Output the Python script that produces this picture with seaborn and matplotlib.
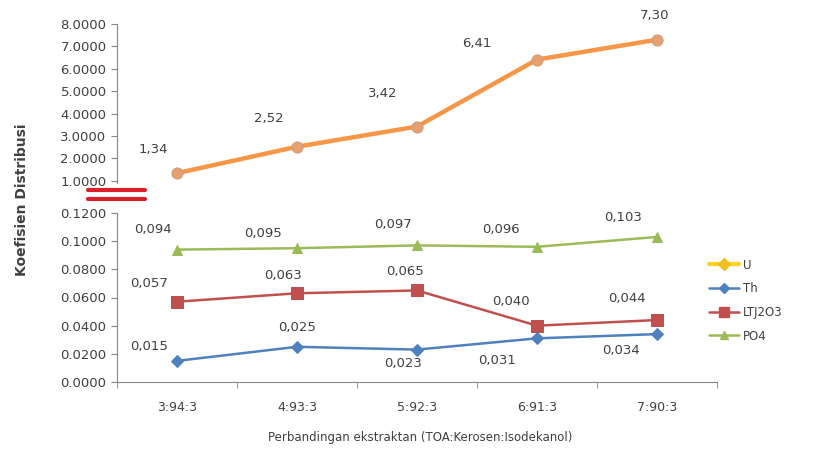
import numpy as np
import pandas as pd
import matplotlib
matplotlib.use("Agg")
import matplotlib.pyplot as plt
from matplotlib.lines import Line2D
import seaborn as sns

categories = ["3:94:3", "4:93:3", "5:92:3", "6:91:3", "7:90:3"]
u_vals = [1.34, 2.52, 3.42, 6.41, 7.30]
th_vals = [0.015, 0.025, 0.023, 0.031, 0.034]
ltj_vals = [0.057, 0.063, 0.065, 0.040, 0.044]
po4_vals = [0.094, 0.095, 0.097, 0.096, 0.103]
u_labels = ["1,34", "2,52", "3,42", "6,41", "7,30"]
th_labels = ["0,015", "0,025", "0,023", "0,031", "0,034"]
ltj_labels = ["0,057", "0,063", "0,065", "0,040", "0,044"]
po4_labels = ["0,094", "0,095", "0,097", "0,096", "0,103"]
upper_ticks = [1, 2, 3, 4, 5, 6, 7, 8]
lower_ticks = [0.0, 0.02, 0.04, 0.06, 0.08, 0.10, 0.12]

sns.set_style("white")
plt.rcParams["font.family"] = ["DejaVu Sans"]

C_U = "#F79646"
C_TH = "#4F81BD"
C_LTJ = "#C0504D"
C_PO4 = "#9BBB59"
GRAY = "#868686"
TXT = "#404040"

fig = plt.figure(figsize=(8.15, 4.5), dpi=100)
L, R = 117 / 815, 717 / 815
ax_up = fig.add_axes([L, 1 - 183 / 450, R - L, (183 - 24) / 450])
ax_lo = fig.add_axes([L, 1 - 382 / 450, R - L, (382 - 213) / 450])

x = np.arange(len(categories))
df_u = pd.DataFrame({"x": x, "y": u_vals})
sns.lineplot(data=df_u, x="x", y="y", ax=ax_up, color=C_U, lw=3.2,
             marker="o", markersize=8, markerfacecolor="#E8A070",
             markeredgecolor="#C8A080", legend=False)

for vals, col, mk, ms in [(po4_vals, C_PO4, "^", 7), (ltj_vals, C_LTJ, "s", 8),
                          (th_vals, C_TH, "D", 6)]:
    d = pd.DataFrame({"x": x, "y": vals})
    sns.lineplot(data=d, x="x", y="y", ax=ax_lo, color=col, lw=1.8, marker=mk,
                 markersize=ms, markeredgecolor=col, legend=False)

# data labels (offsets in pixels)
u_off = [(-24, 24), (-28, 28), (-34, 33), (-60, 16), (-2, 24)]
po4_off = [(-24, 20), (-34, 15), (-24, 21), (-36, 17), (-34, 19)]
ltj_off = [(-28, 18), (-14, 18), (-12, 19), (-26, 24), (-30, 22)]
th_off = [(-28, 14), (0, 19), (-14, -14), (-40, -22), (-36, -16)]
for ax, vals, labs, offs in [(ax_up, u_vals, u_labels, u_off),
                             (ax_lo, po4_vals, po4_labels, po4_off),
                             (ax_lo, ltj_vals, ltj_labels, ltj_off),
                             (ax_lo, th_vals, th_labels, th_off)]:
    for xi, v, t, o in zip(x, vals, labs, offs):
        ax.annotate(t, (xi, v), xytext=o, textcoords="offset pixels",
                    ha="center", va="center", fontsize=9.5, color=TXT)

for ax in (ax_up, ax_lo):
    ax.set_xlim(-0.5, len(categories) - 0.5)
    for s in ("top", "right"):
        ax.spines[s].set_visible(False)
    ax.spines["left"].set_color(GRAY)
    ax.spines["bottom"].set_color(GRAY)
    ax.set_xlabel("")
    ax.set_ylabel("")
    ax.tick_params(axis="y", direction="out", length=4, color=GRAY,
                   labelsize=9.5, labelcolor=TXT, left=True)

ax_up.spines["bottom"].set_visible(False)
ax_up.set_xticks([])
ax_up.set_ylim(0.9, 8.0)
ax_up.set_yticks(upper_ticks)
ax_up.set_yticklabels([f"{t:.4f}" for t in upper_ticks])

ax_lo.set_ylim(0, 0.12)
ax_lo.set_yticks(lower_ticks)
ax_lo.set_yticklabels([f"{t:.4f}" for t in lower_ticks])
ax_lo.set_xticks(x)
ax_lo.set_xticklabels(categories)
ax_lo.set_xticks(np.arange(-0.5, len(categories)), minor=True)
ax_lo.tick_params(axis="x", which="major", length=0, pad=14, labelsize=9,
                  labelcolor=TXT)
ax_lo.tick_params(axis="x", which="minor", length=4, color=GRAY,
                  direction="out", bottom=True)

# break marks
for yy in (190, 199):
    fig.add_artist(Line2D([88 / 815, 145 / 815], [1 - yy / 450, 1 - yy / 450],
                          color="#D8202A", lw=3, transform=fig.transFigure))

fig.text(22 / 815, 1 - 200 / 450, "Koefisien Distribusi", rotation=90,
         ha="center", va="center", fontsize=10, fontweight="bold", color=TXT)
fig.text(420 / 815, 1 - 437 / 450,
         "Perbandingan ekstraktan (TOA:Kerosen:Isodekanol)",
         ha="center", va="center", fontsize=8.5, color=TXT)

handles = [
    Line2D([], [], color="#FFD21F", lw=3, marker="D", markersize=6,
           markerfacecolor="#F0C020", markeredgecolor="#F0C020"),
    Line2D([], [], color=C_TH, lw=1.8, marker="D", markersize=5),
    Line2D([], [], color=C_LTJ, lw=1.8, marker="s", markersize=7),
    Line2D([], [], color=C_PO4, lw=1.8, marker="^", markersize=6),
]
fig.legend(handles, ["U", "Th", "LTJ2O3", "PO4"], loc="upper left",
           bbox_to_anchor=(698 / 815, 1 - 248 / 450), frameon=False,
           fontsize=8.5, labelcolor=TXT, handlelength=2.6, handletextpad=0.3,
           labelspacing=0.9)

fig.savefig("out.png", dpi=100)
